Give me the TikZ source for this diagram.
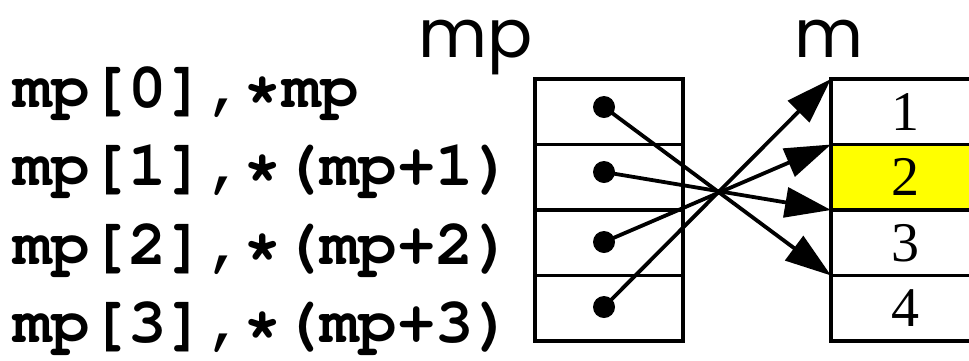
\documentclass[tikz,border=0pt]{standalone}
\usepackage[T1]{fontenc}
\usepackage{fontspec}
\usetikzlibrary{arrows.meta}
\newfontfamily\labfont{Poppins}
\newfontfamily\numfont{Liberation Serif}
\newcommand\mycodefont{\fontencoding{T1}\fontfamily{pcr}\fontseries{b}\selectfont}
\definecolor{hl}{RGB}{255,255,0}
\begin{document}
\begin{tikzpicture}[x=1pt,y=-1pt,
  cell/.style={draw, line width=3.8pt, minimum width=148pt, minimum height=65.5pt,
    inner sep=0pt, outer sep=0pt, anchor=north west,
    font=\numfont\fontsize{56}{56}\selectfont},
  dot/.style={circle, fill=black, inner sep=0pt, minimum size=22pt},
  arr/.style={line width=3.8pt, -{Triangle[length=46pt,width=30pt]}},
  code/.style={anchor=base west, inner sep=0pt, font=\fontsize{64}{64}\mycodefont},
  lab/.style={anchor=base west, inner sep=0pt, font=\labfont\fontsize{67}{67}\selectfont}]
\useasboundingbox (0,0) rectangle (969,360);
% code lines
\node[code] (c1) at (13,107) {mp[0],*mp};
\node[code] (c2) at (13,185) {mp[1],*(mp+1)};
\node[code] (c3) at (13,264) {mp[2],*(mp+2)};
\node[code] (c4) at (13,342) {mp[3],*(mp+3)};
% labels
\node[lab] (lmp) at (418,57) {mp};
\node[lab] (lm) at (794,57) {m};
% mp array
\node[cell] (p1) at (535,79) {};
\node[cell] (p2) at (535,144.5) {};
\node[cell] (p3) at (535,210) {};
\node[cell] (p4) at (535,275.5) {};
% m array
\node[cell] (m1) at (831,79) {1};
\node[cell, fill=hl] (m2) at (831,144.5) {2};
\node[cell] (m3) at (831,210) {3};
\node[cell] (m4) at (831,275.5) {4};
\draw[line width=3.8pt] (m2.north west) rectangle (m2.south east);
% dots
\node[dot] (d1) at (604,107) {};
\node[dot] (d2) at (604,172) {};
\node[dot] (d3) at (604,242) {};
\node[dot] (d4) at (604,307) {};
% arrows
\draw[arr] (d1.center) -- (m3.south west);
\draw[arr] (d2.center) -- (m2.south west);
\draw[arr] (d3.center) -- (m2.north west);
\draw[arr] (d4.center) -- (m1.north west);
\end{tikzpicture}
\end{document}
